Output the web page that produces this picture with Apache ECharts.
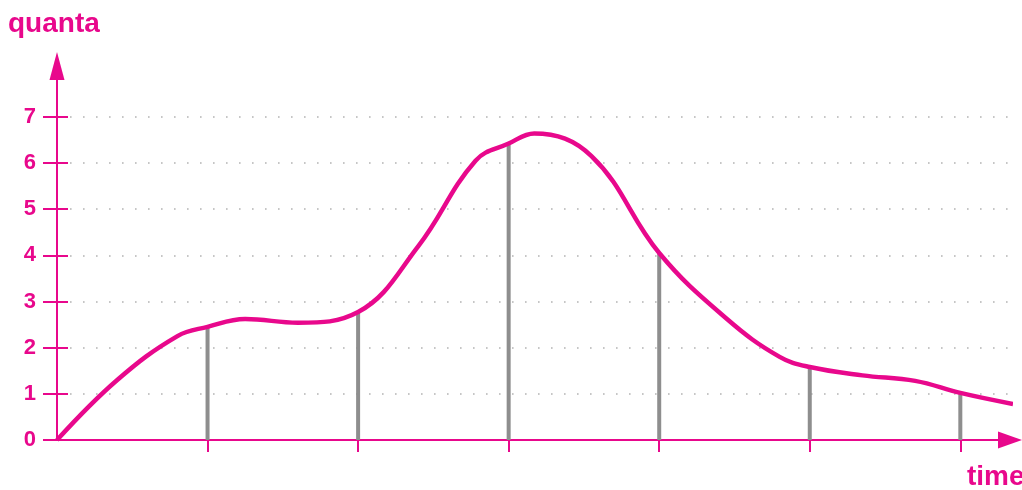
<!DOCTYPE html>
<html>
<head>
	<meta charset="utf-8">
	<script src="https://cdn.jsdelivr.net/npm/echarts@6/dist/echarts.min.js"></script>
	<style>
		html, body { margin: 0; padding: 0; background: #fff; }
		#chart { width: 1022px; height: 490px; }
	</style>
	<title>quanta / time</title>
</head>
<body>
	<div id="chart"></div>
	<script>
		// smooth curve (x in time units, y in quanta)
		const curveX = [0, 0.4, 0.8, 1, 1.25, 1.6, 2, 2.4, 2.78, 3, 3.17, 3.55, 4, 4.45, 4.8, 5, 5.35, 5.7, 6, 6.35];
		const curveY = [0, 1.3, 2.25, 2.45, 2.62, 2.54, 2.77, 4.2, 6.05, 6.42, 6.64, 6.15, 4.05, 2.62, 1.8, 1.58, 1.4, 1.28, 1.02, 0.78];
		// grey sticks under the curve
		const stickX = [1, 2, 3, 4, 5, 6];
		const stickY = [2.45, 2.77, 6.4, 4.05, 1.58, 1.0];
		// tick values
		const yTicks = [0, 1, 2, 3, 4, 5, 6, 7];
		const xTicks = [1, 2, 3, 4, 5, 6];

		const pink = '#e8088c';
		const grey = '#8e8e8e';
		const font = 'Liberation Sans';

		const chart = echarts.init(document.getElementById('chart'));
		chart.setOption({
			animation: false,
			graphic: [
				{ type: 'text', left: 8, top: 10, style: { text: 'quanta', fill: pink, font: 'bold 28px "Liberation Sans"' } },
				{ type: 'text', left: 967, top: 463, style: { text: 'time', fill: pink, font: 'bold 28px "Liberation Sans"' } }
			],
			grid: { left: 57, right: 12, top: 66, bottom: 50 },
			xAxis: {
				type: 'value', min: 0, max: 6.33, interval: 1,
				axisLine: { lineStyle: { color: pink, width: 2 }, symbol: ['none', 'triangle'], symbolSize: [17, 24] },
				axisTick: { show: true, length: 12, customValues: xTicks, lineStyle: { color: pink, width: 2 } },
				axisLabel: { show: false },
				splitLine: { show: false }
			},
			yAxis: [
				{
					type: 'value', min: 0, max: 8.1, interval: 1,
					axisLine: { show: true, lineStyle: { color: pink, width: 2 }, symbol: ['none', 'triangle'], symbolSize: [15, 28] },
					axisTick: { show: true, length: 14, customValues: yTicks, lineStyle: { color: pink, width: 2 } },
					axisLabel: { customValues: yTicks, margin: 21, color: pink, fontSize: 22, fontWeight: 'bold', fontFamily: font },
					splitLine: { show: true, lineStyle: { color: '#b4b4b4', width: 1.6, type: [1.6, 11.4] } }
				},
				{
					type: 'value', min: 0, max: 8.1, interval: 1, position: 'left',
					axisLine: { show: false },
					axisTick: { show: true, inside: true, length: 11, customValues: yTicks, lineStyle: { color: pink, width: 2 } },
					axisLabel: { show: false },
					splitLine: { show: false }
				}
			],
			series: [
				{
					type: 'bar',
					barWidth: 4,
					itemStyle: { color: grey },
					data: stickX.map((x, i) => [x, stickY[i]]),
					z: 1
				},
				{
					type: 'line',
					smooth: 0.4,
					clip: false,
					symbol: 'none',
					lineStyle: { color: pink, width: 4.5 },
					data: curveX.map((x, i) => [x, curveY[i]]),
					z: 3
				}
			]
		});
	</script>
</body>
</html>
